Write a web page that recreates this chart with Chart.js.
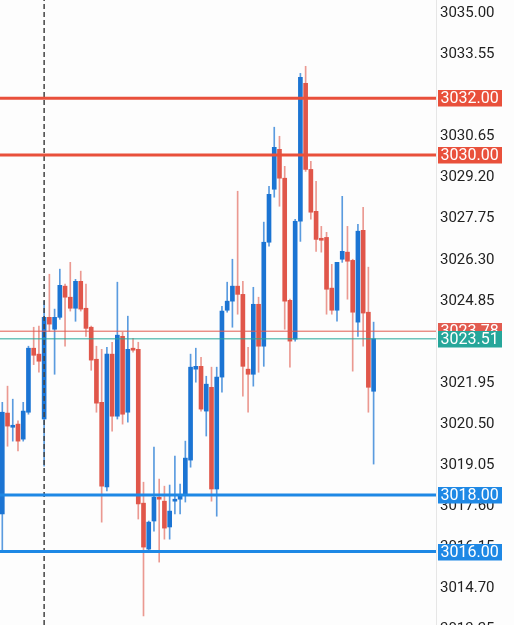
<!DOCTYPE html>
<html><head><meta charset="utf-8">
<script src="https://cdn.jsdelivr.net/npm/chart.js@4"></script>
<style>html,body{margin:0;padding:0;background:#fdfdfd;}canvas{display:block;}</style>
</head><body>
<canvas id="c" width="514" height="625"></canvas>
<script>
// ---- data ----
const opens  = [3017.33,3020.89,3020.39,3020.50,3019.97,3020.92,3023.18,3022.97,3020.68,3024.27,3023.85,3024.27,3025.37,3024.98,3024.59,3025.54,3024.59,3023.92,3022.79,3021.27,3018.28,3022.97,3020.78,3023.60,3020.92,3023.18,3023.14,3017.71,3016.09,3017.08,3017.92,3017.78,3016.87,3017.78,3017.85,3018.03,3019.23,3022.44,3022.54,3020.96,3021.80,3018.21,3022.16,3024.52,3024.84,3025.37,3025.08,3022.44,3022.26,3024.73,3023.25,3026.92,3028.79,3030.20,3029.18,3024.87,3023.50,3027.66,3032.53,3029.49,3028.01,3027.06,3027.09,3025.30,3024.52,3026.32,3026.57,3026.28,3024.10,3027.34,3024.45,3021.66];
const highs  = [3021.27,3021.84,3021.38,3020.62,3021.27,3023.25,3023.92,3023.96,3024.84,3025.79,3024.56,3025.97,3025.44,3026.21,3025.61,3025.90,3025.44,3023.96,3023.25,3023.14,3023.21,3023.39,3025.51,3023.74,3024.31,3023.53,3023.39,3018.45,3017.08,3019.69,3018.56,3018.31,3018.35,3019.37,3018.38,3019.90,3022.97,3023.18,3022.86,3022.19,3022.51,3022.51,3024.66,3025.51,3026.32,3028.72,3025.54,3023.21,3025.33,3024.98,3027.63,3028.89,3030.98,3030.66,3029.60,3024.91,3027.73,3032.88,3033.13,3029.78,3029.07,3027.48,3027.27,3026.14,3026.21,3028.54,3027.48,3026.32,3027.55,3028.15,3026.04,3024.10];
const lows   = [3016.05,3019.72,3019.90,3019.55,3019.90,3020.85,3022.60,3022.33,3019.02,3023.78,3022.26,3024.20,3023.25,3024.49,3024.13,3024.49,3023.60,3022.40,3020.92,3017.04,3018.14,3020.25,3020.68,3020.50,3020.57,3023.04,3017.15,3013.73,3016.02,3016.72,3015.63,3016.44,3016.44,3017.33,3017.33,3017.75,3018.98,3021.98,3020.96,3020.08,3017.78,3017.25,3021.63,3024.45,3023.92,3024.38,3021.49,3020.92,3021.84,3022.33,3022.54,3026.78,3028.51,3028.19,3023.85,3022.51,3023.43,3026.95,3029.42,3027.73,3026.60,3026.57,3024.38,3024.38,3024.13,3026.21,3024.91,3022.37,3023.60,3023.25,3020.92,3019.09];
const closes = [3020.92,3020.43,3020.46,3019.90,3020.96,3023.18,3022.93,3022.72,3024.27,3024.03,3024.27,3025.40,3024.98,3024.59,3025.54,3024.56,3023.88,3022.76,3021.24,3018.31,3022.97,3020.78,3023.64,3020.85,3023.14,3023.11,3017.68,3016.16,3017.04,3017.92,3017.85,3016.83,3017.43,3017.85,3017.96,3019.30,3022.51,3022.54,3021.03,3021.91,3018.21,3022.16,3024.49,3024.84,3025.37,3025.08,3022.54,3022.26,3024.73,3023.25,3026.92,3028.61,3030.27,3029.18,3024.84,3023.43,3027.66,3032.74,3029.49,3027.98,3027.02,3026.99,3025.26,3024.52,3026.21,3026.60,3026.25,3024.45,3027.31,3024.42,3021.80,3023.51];
const yTickLabels = ['3035.00','3033.55','3030.65','3029.20','3027.75','3026.30','3024.85','3021.95','3020.50','3019.05','3017.60','3016.15','3014.70','3013.25'];
const resistanceLevels = [3032.00, 3030.00];
const supportLevels = [3018.00, 3016.00];
const refPrice = 3023.78;
const lastPrice = 3023.51;
const markerIndex = 8;

// ---- styles ----
const UP = '#1b74d3', DOWN = '#e0564a';
const UP_WICK = 'rgba(27,116,211,0.72)', DOWN_WICK = 'rgba(224,86,74,0.6)';
const RES_COLOR = '#e9503b', SUP_COLOR = '#1e88e5', LAST_COLOR = '#26a69a', REF_COLOR = '#e25b50';
const X_MIN = -0.44, X_MAX = 82.93, Y_MIN = 3013.41, Y_MAX = 3035.47;

const idx = opens.map((_, i) => i);
const isUp = i => closes[i] >= opens[i];

function hLine(v, color, width) {
  return { type: 'line', data: [{x: X_MIN, y: v}, {x: X_MAX, y: v}], borderColor: color, borderWidth: width,
           pointRadius: 0, order: 0, fill: false };
}

const datasets = [
  ...resistanceLevels.map(v => hLine(v, RES_COLOR, 3)),
  ...supportLevels.map(v => hLine(v, SUP_COLOR, 3)),
  hLine(refPrice, REF_COLOR, 1),
  hLine(lastPrice, LAST_COLOR, 1),
  { type: 'line', data: [{x: markerIndex, y: Y_MIN}, {x: markerIndex, y: Y_MAX}], borderColor: '#444444',
    borderWidth: 1.5, borderDash: [5, 3], pointRadius: 0, order: 0 },
  { type: 'bar', data: idx.map(i => ({x: i, y: [opens[i], closes[i]]})), grouped: false, barThickness: 4,
    minBarLength: 1.5, backgroundColor: c => isUp(c.dataIndex) ? UP : DOWN, borderWidth: 0, order: 1 },
  { type: 'bar', data: idx.map(i => ({x: i, y: [lows[i], highs[i]]})), grouped: false, barThickness: 1,
    backgroundColor: c => isUp(c.dataIndex) ? UP_WICK : DOWN_WICK, borderWidth: 0, order: 2 }
];

const tagPlugin = {
  id: 'tags',
  afterDraw(chart) {
    const ctx = chart.ctx, ys = chart.scales.y, left = chart.chartArea.right + 2;
    const tags = [
      ...resistanceLevels.map(v => [v, RES_COLOR]),
      ...supportLevels.map(v => [v, SUP_COLOR]),
      [refPrice, REF_COLOR],
      [lastPrice, LAST_COLOR]
    ];
    ctx.save();
    ctx.font = '16px Roboto';
    ctx.textBaseline = 'middle';
    ctx.textAlign = 'left';
    tags.forEach(([v, col]) => {
      const y = ys.getPixelForValue(v);
      ctx.fillStyle = col;
      ctx.fillRect(left, Math.round(y - 8), 64, 16.5);
      ctx.fillStyle = '#ffffff';
      ctx.fillText(v.toFixed(2), left + 2.5, y + 1);
    });
    ctx.restore();
  }
};

new Chart(document.getElementById('c'), {
  type: 'bar',
  data: { datasets },
  options: {
    responsive: false,
    animation: false,
    layout: { padding: 0 },
    plugins: { legend: { display: false }, tooltip: { enabled: false } },
    scales: {
      x: { type: 'linear', min: X_MIN, max: X_MAX, display: false, offset: false },
      y: {
        position: 'right', min: Y_MIN, max: Y_MAX, bounds: 'data',
        grid: { display: false, drawTicks: false },
        border: { display: true, color: '#e6e6e6', width: 1 },
        ticks: { autoSkip: false, padding: 4, color: '#222222', font: { family: 'Roboto', size: 15 },
                 callback: v => v.toFixed(2) },
        afterBuildTicks: s => { s.ticks = yTickLabels.map(t => ({ value: parseFloat(t) })); },
        afterFit: s => { s.width = 78; s.paddingTop = 0; s.paddingBottom = 0; }
      }
    }
  },
  plugins: [tagPlugin]
});
</script>
</body></html>
